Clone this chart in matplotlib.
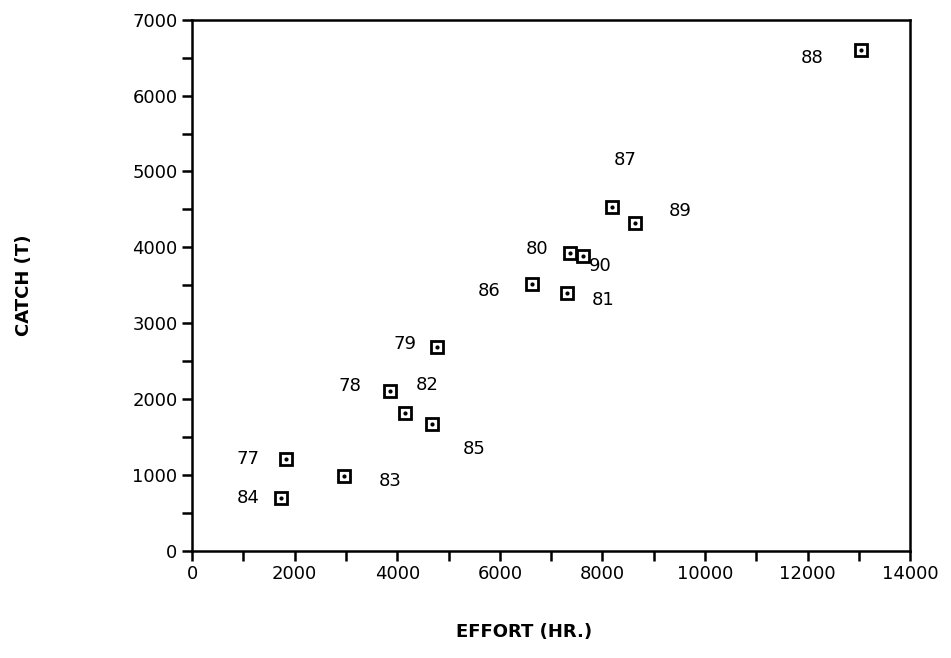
import matplotlib
matplotlib.use("Agg")
import matplotlib.pyplot as plt

# catch vs effort by year
years = ["77", "78", "79", "80", "81", "82", "83", "84", "85", "86", "87", "88", "89", "90"]
effort = [1830, 3860, 4780, 7370, 7310, 4150, 2960, 1730, 4680, 6620, 8190, 13040, 8640, 7620]
catch = [1210, 2100, 2680, 3920, 3400, 1820, 990, 700, 1670, 3510, 4530, 6600, 4320, 3890]

# label offsets in pixels (dx, dy), style only
offsets = {
    "77": (-38, 0), "78": (-40, 5), "79": (-32, 3), "80": (-33, 4), "81": (36, -7),
    "82": (22, 28), "83": (46, -5), "84": (-33, 0), "85": (42, -25), "86": (-42, -7),
    "87": (13, 47), "88": (-49, -8), "89": (45, 12), "90": (17, -10),
}


def main():
    fig = plt.figure(figsize=(9.51, 6.58), dpi=100)
    ax = fig.add_axes([0.202, 0.163, 0.755, 0.807])

    ax.plot(effort, catch, linestyle="none", marker="s", markersize=9,
            markerfacecolor="white", markeredgecolor="black", markeredgewidth=2)
    ax.plot(effort, catch, linestyle="none", marker="o", markersize=2, color="black")

    for i, yr in enumerate(years):
        dx, dy = offsets[yr]
        ax.annotate(yr, (effort[i], catch[i]), xytext=(dx, dy), textcoords="offset pixels",
                    ha="center", va="center", fontsize=13)

    ax.set_xlim(0, 14000)
    ax.set_ylim(0, 7000)
    ax.set_xticks(range(0, 14001, 2000))
    ax.set_yticks(range(0, 7001, 1000))
    ax.set_xticks(range(0, 14001, 1000), minor=True)
    ax.set_yticks(range(0, 7001, 500), minor=True)
    ax.tick_params(which="both", direction="out", width=1.8, length=7, labelsize=13)
    for s in ax.spines.values():
        s.set_linewidth(1.8)

    fig.text(0.551, 0.04, "EFFORT (HR.)", ha="center", va="center", fontsize=13, fontweight="bold")
    fig.text(0.025, 0.566, "CATCH (T)", ha="center", va="center", fontsize=13,
             fontweight="bold", rotation=90)

    fig.savefig("out.png", dpi=100)


if __name__ == '__main__':
    main()
